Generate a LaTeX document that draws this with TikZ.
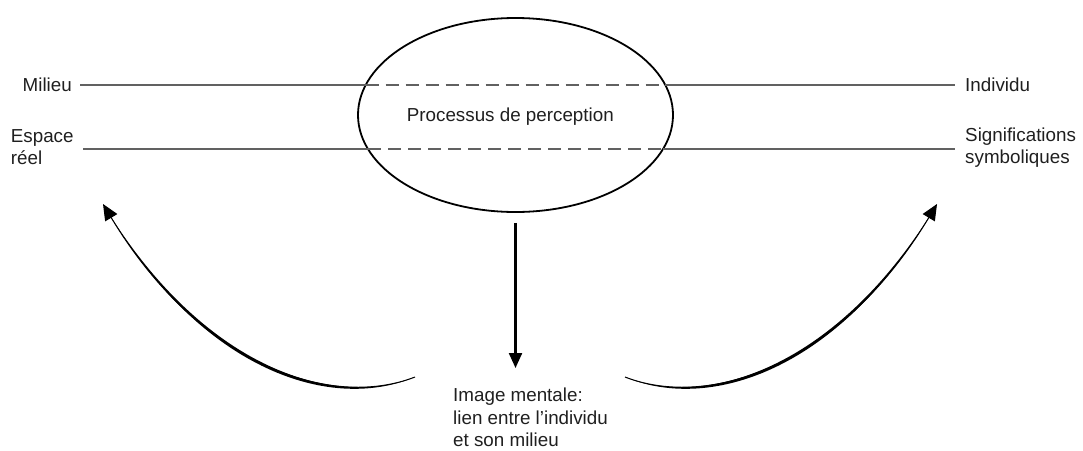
\documentclass[tikz,border=0pt]{standalone}
\usepackage{fontspec}
\setmainfont{Liberation Sans}
\usetikzlibrary{arrows.meta,shapes.geometric}
\begin{document}
\begin{tikzpicture}[x=1pt,y=-1pt,
  lbl/.style={inner sep=0pt, font=\fontsize{18.8}{22.5}\selectfont, text=black!88, align=left},
  axisline/.style={draw=black!62, line width=2pt},
  axisdash/.style={axisline, dash pattern=on 13pt off 7pt},
  ovalshape/.style={ellipse, draw=black, line width=1.8pt, inner sep=0pt, minimum width=315pt, minimum height=194pt},
  downarrow/.style={draw=black, line width=2.2pt, -{Triangle[length=15pt,width=13pt]}},
  curvearrow/.style={draw=black, line width=1pt, -{Triangle[length=16pt,width=14pt]}},
  taper/.style={fill=black}]
\useasboundingbox (0,0) rectangle (1083,450);
% labels
\node[lbl, anchor=east] (milieu) at (72,85) {Milieu};
\node[lbl, anchor=west] (indiv) at (965,85) {Individu};
\node[lbl, anchor=base west] (espace) at (10.7,164.5) {Espace\\réel};
\node[lbl, anchor=base west] (signif) at (965,163.5) {Significations\\symboliques};
% ellipse
\node[ovalshape] (perc) at (515.5,115) {};
\node[lbl, anchor=base] (ptext) at (510.3,121.5) {Processus de perception};
% crossing points with ellipse
\coordinate (a1) at (365.7,85);
\coordinate (a2) at (665.3,85);
\coordinate (b1) at (368,149);
\coordinate (b2) at (663,149);
% horizontal lines
\draw[axisline] ([xshift=8pt]milieu.east) -- (a1);
\draw[axisdash] (a1) -- (a2);
\draw[axisline] (a2) -- ([xshift=-10pt]indiv.west);
\draw[axisline] ([xshift=9.5pt]espace.east |- b1) -- (b1);
\draw[axisdash] (b1) -- (b2);
\draw[axisline] (b2) -- ([xshift=-10pt]signif.west |- b2);
% image mentale
\node[lbl, anchor=base west] (image) at (453,446.5) {Image mentale:\\lien entre l’individu\\et son milieu};
\draw[downarrow, shorten <=10pt] (perc.south) -- (perc.south |- 0,368);
% curved arrows
\coordinate (ls) at (415,377);
\coordinate (lt) at (103,204);
\coordinate (rs) at (625,377);
\coordinate (rt) at (937,204);
\fill[taper] (ls) .. controls (330,410) and (200,365) .. (lt) .. controls (197,368) and (328,413.5) .. (ls);
\draw[curvearrow] (ls) .. controls (330,410) and (200,365) .. (lt);
\fill[taper] (rs) .. controls (710,410) and (840,365) .. (rt) .. controls (843,368) and (712,413.5) .. (rs);
\draw[curvearrow] (rs) .. controls (710,410) and (840,365) .. (rt);
\end{tikzpicture}
\end{document}
